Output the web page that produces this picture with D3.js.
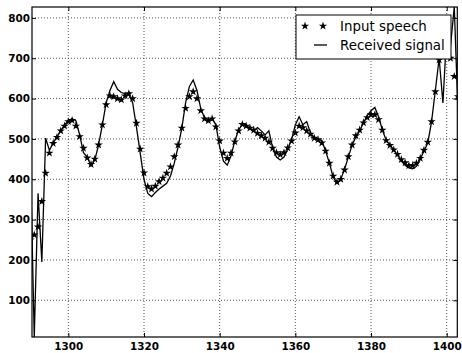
<!DOCTYPE html>
<html>
<head>
<meta charset="utf-8">
<script src="https://cdn.jsdelivr.net/npm/d3@7"></script>
<style>
  body { margin: 0; background: #fff; }
  text { font-family: "DejaVu Sans", sans-serif; }
</style>
</head>
<body>
<div id="my-draw"></div>
<script>

// sample index on the x axis
var samples = d3.range(1290, 1404);

// input speech (stars), one value per sample
var speech = [
  250, 262, 282, 345, 415, 465, 489, 504, 520, 532,
  543, 546, 532, 506, 477, 453, 437, 450, 485, 535,
  585, 607, 605, 600, 597, 607, 612, 600, 539, 475,
  416, 382, 376, 383, 394, 403, 415, 431, 456, 485,
  527, 576, 605, 617, 600, 570, 550, 545, 550, 530,
  495, 465, 452, 465, 493, 520, 536, 532, 527, 522,
  514, 508, 502, 492, 477, 466, 461, 466, 478, 495,
  515, 532, 528, 520, 512, 502, 498, 490, 470, 440,
  408, 393, 400, 423, 456, 485, 508, 522, 540, 553,
  560, 560, 548, 522, 496, 484, 473, 462, 449, 441,
  434, 434, 440, 452, 472, 492, 543, 617, 696, 705,
  740, 700, 655, 605
];

// received signal (solid line)
var received = [
  436,   9, 365, 195, 502, 472, 490, 505, 520, 535,
  545, 550, 545, 510, 466, 455, 433, 448, 485, 535,
  590, 620, 642, 623, 615, 612, 610, 590, 530, 465,
  400, 365, 357, 367, 376, 383, 390, 408, 440, 480,
  527, 590, 630, 646, 620, 575, 552, 548, 550, 535,
  480, 445, 435, 458, 495, 522, 537, 535, 525, 520,
  528, 520, 510, 520, 478, 455, 448, 455, 475, 498,
  535, 555, 535, 543, 515, 503, 500, 495, 470, 440,
  405, 390, 400, 425, 455, 485, 505, 520, 540, 558,
  570, 578, 555, 522, 497, 485, 473, 460, 445, 435,
  428, 426, 432, 450, 470, 490, 543, 620, 700, 589,
  760, 730, 827, 560
];

var xTicks = [1300, 1320, 1340, 1360, 1380, 1400];
var yTicks = [100, 200, 300, 400, 500, 600, 700, 800];
var xLimits = [1290.4, 1402.8];
var legendLabels = ["Input speech", "Received signal"];

var width = 462, height = 353;
var margin = {left: 32, top: 7, right: 4.7, bottom: 16};
var drawWidth = width - margin.left - margin.right;
var drawHeight = height - margin.top - margin.bottom;

var svg = d3.select("#my-draw")
  .append("svg")
  .attr("width", width)
  .attr("height", height);

var canvas = svg.append("g")
  .attr("transform", "translate(" + margin.left + "," + margin.top + ")");

var x = d3.scaleLinear()
  .domain(xLimits)
  .range([0, drawWidth]);

// y limits follow the data range, like autoscale
var y = d3.scaleLinear()
  .domain(d3.extent(received))
  .range([drawHeight, 0]);

canvas.append("clipPath")
  .attr("id", "plot-clip")
  .append("rect")
  .attr("width", drawWidth)
  .attr("height", drawHeight);

// dotted grid
canvas.append("g")
  .selectAll("line")
  .data(xTicks)
  .enter()
  .append("line")
  .attr("x1", function (d) { return x(d); })
  .attr("x2", function (d) { return x(d); })
  .attr("y1", 0)
  .attr("y2", drawHeight)
  .attr("stroke", "#444")
  .attr("stroke-width", 0.9)
  .attr("stroke-dasharray", "1,2");

canvas.append("g")
  .selectAll("line")
  .data(yTicks)
  .enter()
  .append("line")
  .attr("x1", 0)
  .attr("x2", drawWidth)
  .attr("y1", function (d) { return y(d); })
  .attr("y2", function (d) { return y(d); })
  .attr("stroke", "#444")
  .attr("stroke-width", 0.9)
  .attr("stroke-dasharray", "1,2");

// data
var plot = canvas.append("g")
  .attr("clip-path", "url(#plot-clip)");

plot.append("path")
  .datum(samples)
  .attr("fill", "none")
  .attr("stroke", "#000")
  .attr("stroke-width", 1.3)
  .attr("d", d3.line()
    .x(function (d) { return x(d); })
    .y(function (d, i) { return y(received[i]); }));

var star = d3.symbol().type(d3.symbolStar).size(22);

plot.append("g")
  .selectAll("path")
  .data(samples)
  .enter()
  .append("path")
  .attr("transform", function (d, i) {
    return "translate(" + x(d) + "," + y(speech[i]) + ")";
  })
  .attr("d", star)
  .attr("fill", "#000");

// axes with inward ticks on all four sides
function styleAxis(g) {
  g.select(".domain").remove();
  g.selectAll(".tick line").attr("stroke", "#000");
  g.selectAll(".tick text")
    .attr("fill", "#000")
    .style("font-size", "10.4px")
    .style("font-weight", "bold")
    .style("font-family", "'DejaVu Sans', sans-serif");
}

canvas.append("g")
  .attr("transform", "translate(0," + drawHeight + ")")
  .call(d3.axisBottom(x).tickValues(xTicks).tickSize(-4).tickPadding(6).tickFormat(d3.format("d")))
  .call(styleAxis);

canvas.append("g")
  .call(d3.axisLeft(y).tickValues(yTicks).tickSize(-4).tickPadding(2).tickFormat(d3.format("d")))
  .call(styleAxis);

canvas.append("g")
  .call(d3.axisTop(x).tickValues(xTicks).tickSize(-4).tickFormat(""))
  .call(styleAxis);

canvas.append("g")
  .attr("transform", "translate(" + drawWidth + ",0)")
  .call(d3.axisRight(y).tickValues(yTicks).tickSize(-4).tickFormat(""))
  .call(styleAxis);

canvas.append("rect")
  .attr("width", drawWidth)
  .attr("height", drawHeight)
  .attr("fill", "none")
  .attr("stroke", "#000")
  .attr("stroke-width", 1.2);

// legend
var legend = svg.append("g")
  .attr("transform", "translate(296,15)");

legend.append("rect")
  .attr("width", 155)
  .attr("height", 44)
  .attr("fill", "#fff")
  .attr("stroke", "#000")
  .attr("stroke-width", 1);

legend.selectAll(".legend-star")
  .data([9, 27])
  .enter()
  .append("path")
  .attr("class", "legend-star")
  .attr("transform", function (d) { return "translate(" + d + ",11)"; })
  .attr("d", star)
  .attr("fill", "#000");

legend.append("line")
  .attr("x1", 18)
  .attr("x2", 31)
  .attr("y1", 30)
  .attr("y2", 30)
  .attr("stroke", "#000")
  .attr("stroke-width", 1.3);

legend.selectAll(".legend-text")
  .data(legendLabels)
  .enter()
  .append("text")
  .attr("class", "legend-text")
  .attr("x", 44)
  .attr("y", function (d, i) { return 16 + i * 19; })
  .style("font-size", "13.4px")
  .attr("fill", "#000")
  .text(function (d) { return d; });

</script>
</body>
</html>
